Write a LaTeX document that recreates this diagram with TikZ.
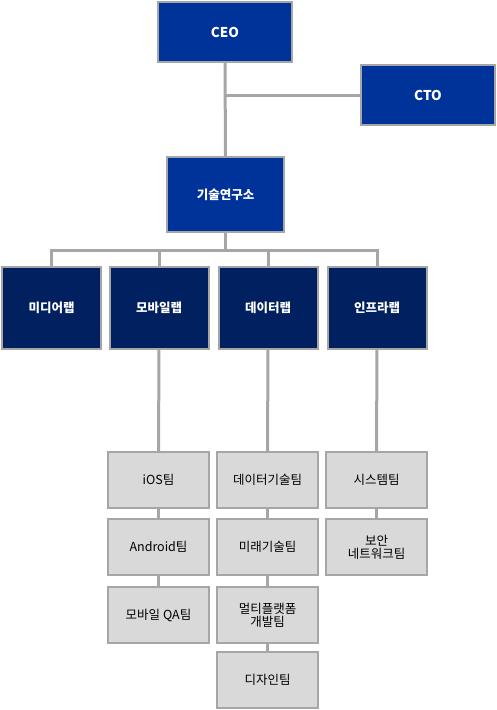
\documentclass[tikz,border=0pt]{standalone}
\usepackage{fontspec}
\setmainfont{Noto Sans CJK KR}
\usepackage{tikz}
\usetikzlibrary{positioning}
\definecolor{ceoblue}{RGB}{0,51,153}
\definecolor{labnavy}{RGB}{0,32,96}
\definecolor{boxgray}{RGB}{217,217,217}
\definecolor{linegray}{RGB}{166,166,166}

\tikzset{
  box/.style={draw=linegray, line width=2pt, inner sep=0pt, outer sep=0pt, align=center},
  topbox/.style={box, fill=ceoblue, text=white, font=\bfseries\fontsize{13.5}{15}\selectfont, minimum width=134pt, minimum height=60pt},
  labbox/.style={box, fill=labnavy, text=white, font=\bfseries\fontsize{12.5}{14}\selectfont, minimum width=99pt, minimum height=82pt},
  teambox/.style={box, fill=boxgray, text=black, font=\fontsize{12.5}{13}\selectfont, minimum width=101pt, minimum height=56pt},
  conn/.style={draw=linegray, line width=3pt}
}

\begin{document}
\begin{tikzpicture}[x=1pt, y=1pt]
\useasboundingbox (0,0) rectangle (497,-710);

% top
\node [topbox] (ceo) at (225,-32) {CEO};
\node [topbox] (cto) at (428,-95) {CTO};
\node [box, fill=ceoblue, text=white, font=\bfseries\fontsize{12.5}{14}\selectfont, minimum width=117pt, minimum height=75pt] (lab) at (225.5,-194.5) {기술연구소};

% labs
\node [labbox] (media) at (51.5,-308) {미디어랩};
\node [labbox] (mobile) at (159,-308) {모바일랩};
\node [labbox] (data) at (268,-308) {데이터랩};
\node [labbox] (infra) at (377,-308) {인프라랩};

% teams
\node [teambox] (ios) at (158.5,-480) {iOS팀};
\node [teambox, below=11pt of ios] (android) {Android팀};
\node [teambox, below=12pt of android] (qa) {모바일 QA팀};

\node [teambox] (datatech) at (267.5,-480) {데이터기술팀};
\node [teambox, below=11pt of datatech] (future) {미래기술팀};
\node [teambox, below=12pt of future] (multi) {멀티플랫폼\\개발팀};
\node [teambox, below=9pt of multi] (design) {디자인팀};

\node [teambox] (system) at (376.5,-480) {시스템팀};
\node [teambox, below=11pt of system] (security) {보안\\네트워크팀};

% connectors
\coordinate (bus) at (225.5,-250);
\draw [conn] (ceo.south) -- (lab.north);
\draw [conn] (ceo.south |- cto.west) -- (cto.west);
\draw [conn] (lab.south) -- (bus);
\draw [conn] (media.north) |- (bus) -| (infra.north);
\draw [conn] (mobile.north) -- (mobile.north |- bus);
\draw [conn] (data.north) -- (data.north |- bus);

\draw [conn] (mobile.south) -- (ios.north);
\draw [conn] (ios) -- (android);
\draw [conn] (android) -- (qa);
\draw [conn] (data.south) -- (datatech.north);
\draw [conn] (datatech) -- (future);
\draw [conn] (future) -- (multi);
\draw [conn] (multi) -- (design);
\draw [conn] (infra.south) -- (system.north);
\draw [conn] (system) -- (security);

\end{tikzpicture}
\end{document}
